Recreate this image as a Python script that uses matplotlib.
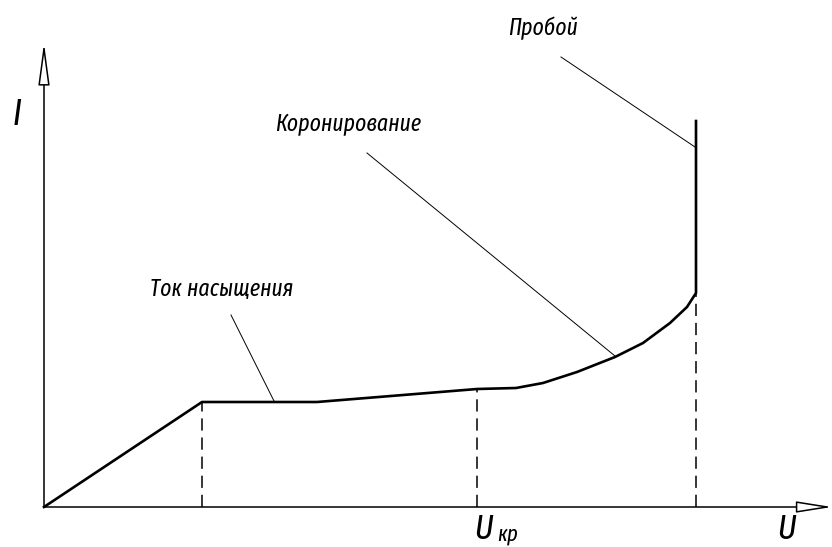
import numpy as np
import matplotlib
matplotlib.use('Agg')
import matplotlib.pyplot as plt

# ВАХ газового промежутка (условные единицы)
U_curve = [0, 158, 273, 433, 472, 499, 533, 571, 599, 626, 643, 652, 652]
I_curve = [0, 105, 105, 118, 119, 124, 135, 150, 164, 184, 200, 214, 386]

# пунктирные вертикали: (U, I)
U_dash = [158, 433, 652]
I_dash = [105, 118, 214]

# подписи и выноски: текст, позиция текста, начало выноски, конец выноски
labels = ['Ток насыщения', 'Коронирование', 'Пробой']
label_pos = [(106, 219), (231, 383), (464, 479)]
leader_from = [(187, 192), (323, 354), (517, 450)]
leader_to = [(230, 106), (571, 151), (651, 360)]

plt.rcParams['font.family'] = ['Fira Sans Extra Condensed', 'DejaVu Sans']

fig = plt.figure(figsize=(8.32, 5.47), dpi=100)
ax = fig.add_axes([0, 0, 1, 1])
ax.set_xlim(-44, 788)
ax.set_ylim(-40, 507)
ax.axis('off')

# оси со стрелками
ax.annotate('', xy=(788, 0), xytext=(0, 0),
            arrowprops=dict(arrowstyle='-|>,head_length=2.2,head_width=0.35',
                            lw=1.1, color='black', fc='white', shrinkA=0, shrinkB=0))
ax.annotate('', xy=(0, 464), xytext=(0, 0),
            arrowprops=dict(arrowstyle='-|>,head_length=2.6,head_width=0.35',
                            lw=1.1, color='black', fc='white', shrinkA=0, shrinkB=0))

ax.plot(U_curve, I_curve, color='black', lw=1.9, solid_joinstyle='round')

for u, i in zip(U_dash, I_dash):
    ax.plot([u, u], [0, i], color='black', lw=1.1, dashes=(8, 4.5))

for t, p, a, b in zip(labels, label_pos, leader_from, leader_to):
    ax.text(p[0], p[1], t, fontsize=17, style='italic', ha='left', va='center')
    ax.plot([a[0], b[0]], [a[1], b[1]], color='black', lw=0.7)

ax.text(-31, 392, 'I', fontsize=26, style='italic', ha='left', va='center')
ax.text(733, -22, 'U', fontsize=25, style='italic', ha='left', va='center')
ax.text(430, -22, 'U', fontsize=25, style='italic', ha='left', va='center')
ax.text(453, -27, 'кр', fontsize=16, style='italic', ha='left', va='center')

fig.savefig('out.png', dpi=100)
